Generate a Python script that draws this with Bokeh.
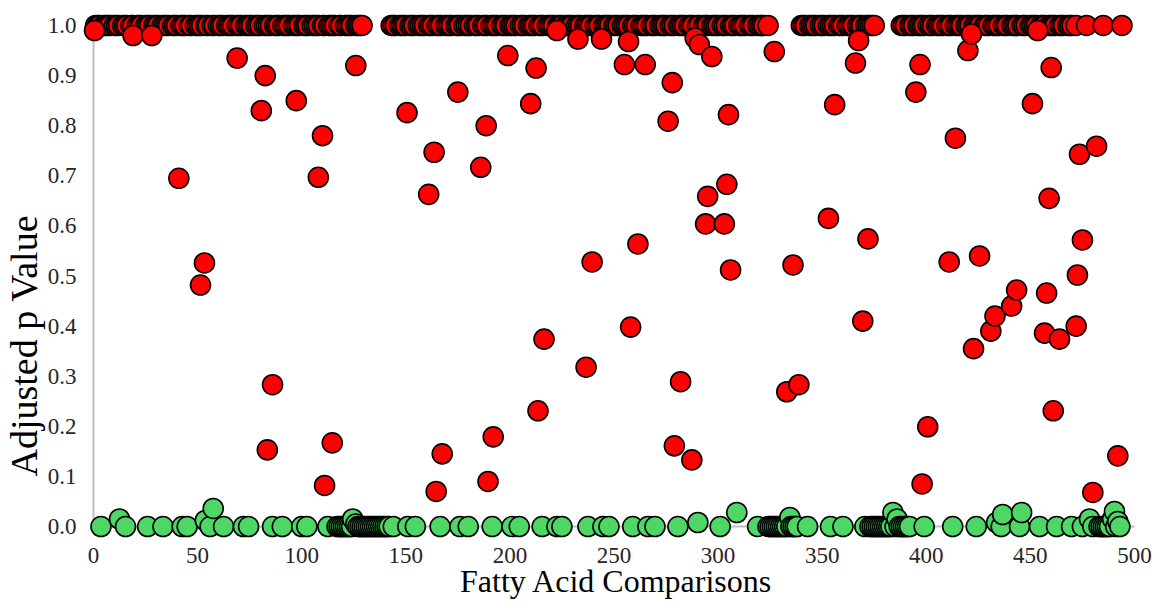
from bokeh.plotting import figure
from bokeh.models import Range1d, FixedTicker, PrintfTickFormatter, Title
from bokeh.embed import file_html
from bokeh.resources import INLINE

# Comparisons whose adjusted p value is 1.0 (the dense band along the top)
red_top_x = [
    1, 2, 3, 5, 6, 7, 8, 10, 11, 12, 14, 15, 16, 18, 19, 21, 22, 23, 25, 26, 27, 29, 30, 31,
    33, 34, 35, 36, 38, 39, 40, 42, 43, 44, 46, 47, 49, 50, 51, 52, 54, 55, 57, 58, 60, 61,
    62, 64, 65, 66, 67, 69, 70, 71, 73, 74, 75, 76, 78, 79, 80, 82, 83, 84, 85, 87, 88, 89,
    91, 92, 93, 94, 96, 97, 98, 99, 101, 102, 103, 105, 106, 107, 108, 110, 111, 113, 114,
    115, 116, 118, 119, 121, 122, 123, 124, 126, 127, 128, 129,
    143, 144, 145, 147, 148, 149, 150, 152, 153, 154, 156, 157, 158, 159, 161, 162, 163, 165,
    166, 167, 169, 170, 171, 172, 174, 175, 176, 178, 179, 180, 181, 183, 184, 185, 187, 188,
    189, 191, 192, 193, 194, 196, 197, 198, 200, 201, 202, 203, 205, 206, 207, 209, 210, 211,
    212, 214, 215, 216, 218, 219, 220, 221, 223, 224, 225, 227, 228, 229, 230, 232, 233, 234,
    236, 237, 238, 239, 241, 242, 243, 245, 246, 247, 248, 250, 251, 252, 254, 255, 256, 257,
    259, 260, 261, 263, 264, 265, 266, 268, 269, 270, 272, 273, 274, 275, 277, 278, 279, 281,
    282, 283, 284, 286, 287, 288, 290, 291, 293, 294, 295, 297, 298, 299, 300, 302, 303, 304,
    306, 307, 308, 310, 311, 312, 313, 315, 316, 317, 319, 320, 321, 322, 324,
    340, 341, 342, 344, 345, 346, 347, 349, 350, 351, 353, 354, 355, 356, 358, 359, 360, 362,
    363, 364, 365, 367, 368, 369, 371, 372, 373, 374, 375,
    388, 389, 390, 392, 393, 394, 396, 397, 398, 399, 401, 402, 403, 405, 406, 407, 408, 410,
    411, 412, 414, 415, 416, 417, 419, 420, 421, 423, 424, 425, 426, 428, 429, 430, 432, 433,
    434, 435, 437, 438, 439, 441, 442, 443, 444, 446, 447, 448, 450, 451, 452, 453, 455, 456,
    457, 459, 460, 461, 462, 464, 465, 466, 468, 469, 470, 472, 477, 485, 494,
]
red_top_p = [1.0] * len(red_top_x)

# Non-significant comparisons with adjusted p below 1.0
red_x = [
    0.5, 19, 28, 41, 51.4, 53.3, 69, 80.6, 82.5, 83.5, 86, 97.4, 108, 110, 111, 114.7, 126,
    150.6, 161, 163.6, 164.6, 167.5, 175, 186, 188.6, 189.5, 192, 199, 210, 212.6, 213.5,
    216.4, 222.6, 232.7, 236.6, 239.5, 244, 255, 257, 258, 261.5, 265, 276, 278, 279, 282,
    287.4, 289, 291, 294, 295, 297, 303, 304.2, 305, 306, 327, 333, 336, 338.8, 353, 356,
    366, 367.5, 369.5, 372, 395, 397, 398, 400.7, 411, 414, 420, 421.7, 422.7, 425.6, 431,
    433, 441, 443.4, 451, 453.5, 456.8, 457.8, 459, 460, 461, 464, 472, 472.6, 473.6, 475,
    480, 481.8, 492,
]
red_p = [
    0.99, 0.98, 0.98, 0.695, 0.482, 0.526, 0.935, 0.83, 0.90, 0.153, 0.283, 0.85, 0.697,
    0.78, 0.082, 0.167, 0.92,
    0.826, 0.663, 0.747, 0.07, 0.145, 0.867, 0.717, 0.80, 0.09, 0.179, 0.94, 0.844, 0.915,
    0.231, 0.374, 0.99, 0.973, 0.318, 0.528, 0.973, 0.922, 0.968, 0.398, 0.564, 0.922,
    0.809, 0.886, 0.161, 0.289, 0.133, 0.975, 0.962, 0.604, 0.659, 0.938, 0.604, 0.683,
    0.822, 0.512, 0.948, 0.269, 0.522, 0.283, 0.615, 0.842, 0.925, 0.97, 0.41, 0.574,
    0.867, 0.922, 0.085, 0.199, 0.528, 0.775, 0.95, 0.983, 0.355, 0.54, 0.39, 0.42, 0.44,
    0.472, 0.844, 0.99, 0.386, 0.466, 0.655, 0.916, 0.231, 0.374, 0.40, 0.502, 0.743,
    0.572, 0.068, 0.759, 0.141,
]

# Significant comparisons (adjusted p close to zero)
green_x = [
    3.6, 12.5, 15.4, 26, 33.4, 42.6, 45, 53.7, 56, 57.5, 62.5, 72, 74.5, 86, 90.7, 100,
    102.5, 112.6, 117, 118, 119, 120, 121, 122, 123, 124, 124.5, 126, 127, 128, 129, 130,
    131, 132, 133, 134, 135, 136, 137, 138, 139, 140, 141, 142, 144, 151, 154.6, 166.5, 176,
    180, 191.5, 201, 204.5, 215.5, 222.6, 225, 237.5, 244.7, 247.6, 259, 266.3, 269.7,
    280.7, 290.3, 301, 309, 319, 324, 325, 326, 327, 328, 329, 330, 331, 332, 333, 334.5,
    335, 336, 337, 338, 343, 354, 360, 370.5, 373, 374, 375, 376, 377, 378, 379, 380, 381,
    382, 383, 384, 385, 386, 387, 388, 389, 390, 391, 392, 399, 412.7, 424, 433.8, 436,
    436.7, 444.8, 445.8, 454.4, 462.6, 469.8, 475, 478.4, 480, 483, 484, 485, 486, 487,
    488, 489.5, 490.4, 491, 492, 493,
]
green_p = [
    0.0, 0.015, 0.0, 0.0, 0.0, 0.0, 0.0, 0.012, 0.0, 0.036, 0.0, 0.0, 0.0, 0.0, 0.0, 0.0,
    0.0, 0.0, 0.0, 0.0, 0.0, 0.0, 0.0, 0.0, 0.0, 0.0, 0.015, 0.005, 0.0, 0.0, 0.0, 0.0,
    0.0, 0.0, 0.0, 0.0, 0.0, 0.0, 0.0, 0.0, 0.0, 0.0, 0.0, 0.0, 0.0, 0.0, 0.0, 0.0, 0.0,
    0.0, 0.0, 0.0, 0.0, 0.0, 0.0, 0.0, 0.0, 0.0, 0.0, 0.0, 0.0, 0.0,
    0.0, 0.008, 0.0, 0.028, 0.0, 0.0, 0.0, 0.0, 0.0, 0.0, 0.0, 0.0, 0.0, 0.0, 0.0, 0.018,
    0.0, 0.0, 0.0, 0.0, 0.0, 0.0, 0.0, 0.0, 0.0, 0.0, 0.0, 0.0, 0.0, 0.0, 0.0, 0.0, 0.0,
    0.0, 0.0, 0.028, 0.0, 0.015, 0.0, 0.0, 0.0, 0.0, 0.0, 0.0, 0.0, 0.0, 0.0, 0.008, 0.0,
    0.024, 0.0, 0.028, 0.0, 0.0, 0.0, 0.0, 0.015, 0.0, 0.0, 0.0, 0.0, 0.0, 0.0,
    0.0, 0.015, 0.03, 0.0, 0.01, 0.0,
]

x_ticks = [0, 50, 100, 150, 200, 250, 300, 350, 400, 450, 500]
y_ticks = [0.0, 0.1, 0.2, 0.3, 0.4, 0.5, 0.6, 0.7, 0.8, 0.9, 1.0]

x_title = "Fatty Acid Comparisons"
y_title = "Adjusted p Value"

FONT = "Liberation Serif"
AXIS_GRAY = "#bfbfbf"
RED = "#ff0000"
GREEN = "#4ed764"

p = figure(
    width=1156, height=601,
    x_range=Range1d(-5.28, 507.7), y_range=Range1d(-0.0299, 1.0299),
    output_backend="svg", toolbar_location=None,
    min_border_left=80, min_border_right=6, min_border_top=10, min_border_bottom=59,
)
p.outline_line_color = None
p.xgrid.grid_line_color = None
p.ygrid.grid_line_color = None

# axis lines drawn through the origin, under the markers
p.segment(x0=[x_ticks[0]], y0=[y_ticks[0]], x1=[x_ticks[-1]], y1=[y_ticks[0]],
          line_color=AXIS_GRAY, line_width=2)
p.segment(x0=[x_ticks[0]], y0=[y_ticks[0]], x1=[x_ticks[0]], y1=[y_ticks[-1]],
          line_color=AXIS_GRAY, line_width=2)

for ax in (p.xaxis[0], p.yaxis[0]):
    ax.axis_line_color = None
    ax.major_tick_line_color = None
    ax.minor_tick_line_color = None
    ax.major_tick_out = 0
    ax.major_tick_in = 0
    ax.major_label_text_font = FONT
    ax.major_label_text_font_size = "23px"
    ax.major_label_text_color = "#262626"

p.xaxis.ticker = FixedTicker(ticks=x_ticks)
p.yaxis.ticker = FixedTicker(ticks=y_ticks)
p.yaxis.formatter = PrintfTickFormatter(format="%.1f")
p.xaxis.major_label_standoff = 6
p.yaxis.major_label_standoff = 6

p.xaxis.axis_label = x_title
p.xaxis.axis_label_text_font = FONT
p.xaxis.axis_label_text_font_size = "32px"
p.xaxis.axis_label_text_font_style = "normal"
p.xaxis.axis_label_text_color = "#000000"
p.xaxis.axis_label_standoff = -3

p.add_layout(Title(text=y_title, align="left", offset=65, standoff=0,
                   text_font=FONT, text_font_size="38px", text_font_style="normal",
                   text_color="#000000"), "left")

marker_style = dict(size=20, line_color="black", line_width=1.6)
p.scatter(red_top_x, red_top_p, fill_color=RED, **marker_style)
p.scatter(red_x, red_p, fill_color=RED, **marker_style)
p.scatter(green_x, green_p, fill_color=GREEN, **marker_style)

open("out.html", "w").write(file_html(p, INLINE))
